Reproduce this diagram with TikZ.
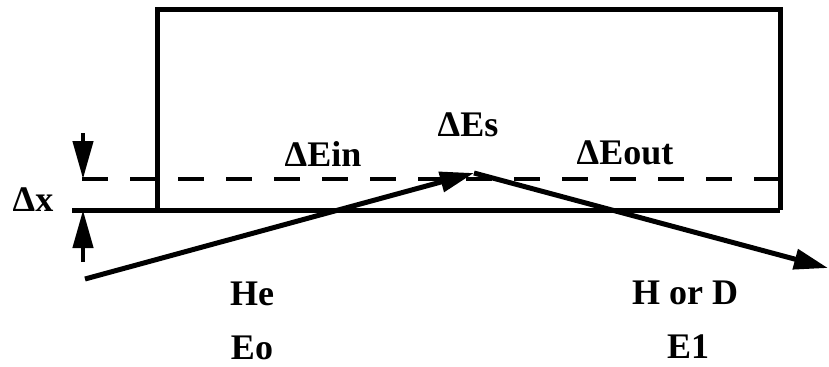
\documentclass[tikz,border=0pt]{standalone}
\usepackage{fontspec}
\setmainfont{Liberation Serif}
\usetikzlibrary{arrows.meta}

\begin{document}
\begin{tikzpicture}[x=0.5pt,y=-0.5pt,
    lbl/.style={font=\fontsize{18}{20}\selectfont\bfseries, inner sep=0pt},
    ray/.style={line width=2.5pt, -{Triangle[length=17pt,width=10pt]}},
    gap/.style={line width=2.2pt, -{Triangle[length=19pt,width=10pt]}}]
        \def\top{9}
        \def\surf{210}
        \def\dep{179}
        \useasboundingbox (0,0) rectangle (829,366);

        % --- 試料 ---
        \draw[line width=2.5pt] (157,\surf) -- (157,\top) -- (780,\top) -- (780,\surf);
        % 表面
        \draw[line width=2.5pt] (72,\surf) -- (780,\surf);
        % 深さ Δx
        \draw[line width=2pt, dash pattern=on 13pt off 11pt] (82,\dep) -- (780,\dep);

        % --- Δx の矢印 ---
        \coordinate (dxtop) at (83,133);
        \coordinate (dxa) at (83,\dep);
        \coordinate (dxbot) at (83,262);
        \coordinate (dxb) at (83,\surf);
        \draw[gap] (dxtop) -- (dxa);
        \draw[gap] (dxbot) -- (dxb);

        % --- 軌道 ---
        \coordinate (in) at (85,279);
        \coordinate (apex) at (474,173);
        \coordinate (out) at (828,268);
        \draw[ray] (in) -- (apex);
        \draw[ray] (apex) -- (out);

        % ラベル
        \node[lbl] (dx) at (33,200) {Δx};
        \node[lbl] (ein) at (323,154) {ΔEin};
        \node[lbl] (es) at (468,125) {ΔEs};
        \node[lbl] (eout) at (625,153) {ΔEout};
        \node[lbl] (he) at (252,294) {He};
        \node[lbl] (eo) at (252,348) {Eo};
        \node[lbl] (hd) at (685,293) {H or D};
        \node[lbl] (e1) at (688,347) {E1};
      \end{tikzpicture}
\end{document}
